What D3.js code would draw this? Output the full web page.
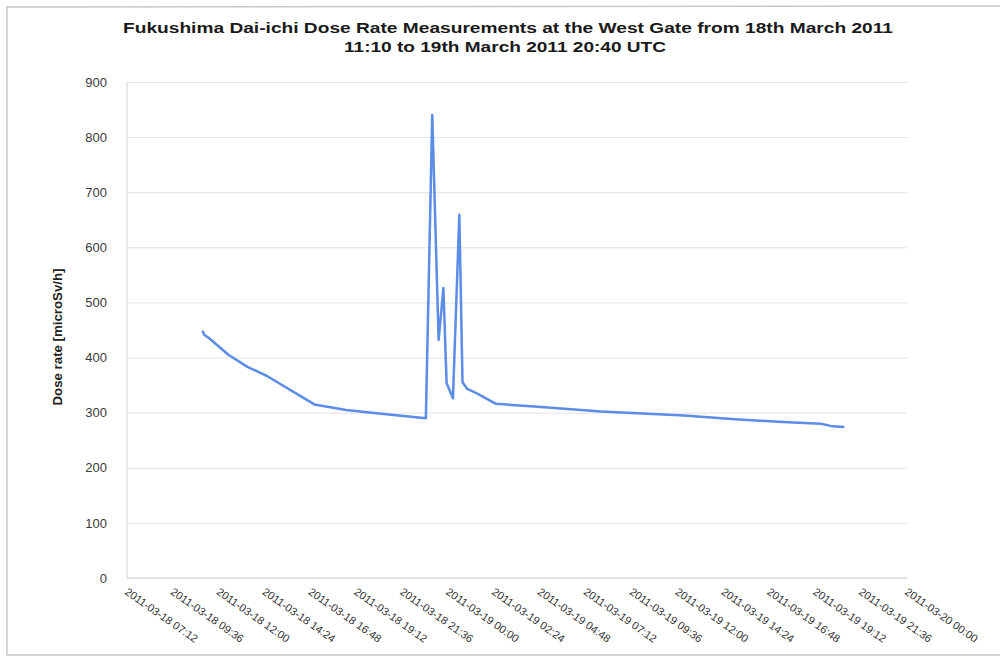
<!DOCTYPE html>
<html>
<head>
<meta charset="utf-8">
<script src="https://cdn.jsdelivr.net/npm/d3@7"></script>
<style>
  body { margin: 0; background: #fff; }
  svg { display: block; font-family: "Liberation Sans", "DejaVu Sans", sans-serif; }
</style>
</head>
<body>
<div id="chart"></div>
<script>
const times = [
  "2011-03-18 11:10", "2011-03-18 11:15", "2011-03-18 11:30", "2011-03-18 12:30",
  "2011-03-18 13:30", "2011-03-18 14:30", "2011-03-18 17:00", "2011-03-18 18:40",
  "2011-03-18 20:30", "2011-03-18 22:50", "2011-03-18 23:10", "2011-03-18 23:30",
  "2011-03-18 23:45", "2011-03-18 23:55", "2011-03-19 00:15", "2011-03-19 00:35",
  "2011-03-19 00:45", "2011-03-19 01:00", "2011-03-19 01:30", "2011-03-19 02:30",
  "2011-03-19 04:30", "2011-03-19 08:00", "2011-03-19 12:20", "2011-03-19 15:00",
  "2011-03-19 17:30", "2011-03-19 19:30", "2011-03-19 20:00", "2011-03-19 20:40",
];
const doses = [
  447, 441, 435, 405,
  383, 367, 315, 305,
  298, 290, 840, 432,
  526, 354, 326, 659,
  355, 343, 335, 316,
  311, 302, 295, 288,
  283, 280, 276, 274,
];
const xTickLabels = [
  "2011-03-18 07:12", "2011-03-18 09:36", "2011-03-18 12:00", "2011-03-18 14:24",
  "2011-03-18 16:48", "2011-03-18 19:12", "2011-03-18 21:36", "2011-03-19 00:00",
  "2011-03-19 02:24", "2011-03-19 04:48", "2011-03-19 07:12", "2011-03-19 09:36",
  "2011-03-19 12:00", "2011-03-19 14:24", "2011-03-19 16:48", "2011-03-19 19:12",
  "2011-03-19 21:36", "2011-03-20 00:00",
];
const yTicks = [0, 100, 200, 300, 400, 500, 600, 700, 800, 900];
const titleLines = [
  "Fukushima Dai-ichi Dose Rate Measurements at the West Gate from 18th March 2011",
  "11:10 to 19th March 2011 20:40 UTC",
];
const yTitle = "Dose rate [microSv/h]";

const W = 1005, H = 657;
const margin = { top: 82, right: 98, bottom: 79, left: 127 };
const width = W - margin.left - margin.right;
const height = H - margin.top - margin.bottom;

const parse = d3.utcParse("%Y-%m-%d %H:%M");
const data = times.map((t, i) => ({ date: parse(t), value: doses[i] }));
const tickDates = xTickLabels.map(parse);

const x = d3.scaleUtc()
  .domain([tickDates[0], tickDates[tickDates.length - 1]])
  .range([0, width]);

const y = d3.scaleLinear()
  .domain([0, 900])
  .range([height, 0]);

const svg = d3.select("#chart")
  .append("svg")
  .attr("width", W)
  .attr("height", H)
  .attr("viewBox", [0, 0, W, H]);

// scanned page frame
svg.append("path")
  .attr("d", `M1000,6 L7,7 L7,655 L1000,655`)
  .attr("fill", "none")
  .attr("stroke", "#c8c8c8")
  .attr("stroke-width", 1.5);

// title
svg.append("g")
  .selectAll("text")
  .data(titleLines)
  .join("text")
  .attr("x", (d, i) => (i === 0 ? 508 : 505))
  .attr("y", (d, i) => 33 + i * 19)
  .attr("text-anchor", "middle")
  .attr("font-size", 14)
  .attr("font-weight", "bold")
  .attr("fill", "#1a1a1a")
  .attr("textLength", (d, i) => (i === 0 ? 770 : 322))
  .attr("lengthAdjust", "spacingAndGlyphs")
  .text((d) => d);

const g = svg.append("g")
  .attr("transform", `translate(${margin.left},${margin.top})`);

// gridlines + y labels
const yAxisGroup = g.append("g")
  .call(d3.axisLeft(y).tickValues(yTicks).tickSize(-width).tickPadding(20))
  .call((g) => g.select(".domain").remove())
  .call((g) => g.selectAll(".tick line").attr("stroke", "#e2e2e2"))
  .call((g) => g.selectAll(".tick text")
    .attr("font-size", 13)
    .attr("fill", "#3a3a3a")
    .attr("font-family", "\"Liberation Sans\", sans-serif"));

// axis lines
g.append("line")
  .attr("x1", 0).attr("x2", 0)
  .attr("y1", 0).attr("y2", height)
  .attr("stroke", "#d4d4d4");
g.append("line")
  .attr("x1", 0).attr("x2", width)
  .attr("y1", height).attr("y2", height)
  .attr("stroke", "#d4d4d4");

// x labels, top-left corner sits at the tick
const xAxisGroup = g.append("g")
  .attr("transform", `translate(0,${height})`)
  .call(d3.axisBottom(x).tickValues(tickDates).tickSize(0).tickFormat((d, i) => xTickLabels[i]))
  .call((g) => g.select(".domain").remove())
  .call((g) => g.selectAll(".tick text")
    .attr("text-anchor", "start")
    .attr("font-size", 11)
    .attr("fill", "#333")
    .attr("x", 6)
    .attr("y", 7)
    .attr("dy", "0.71em")
    .attr("transform", "rotate(35)"));

// y title
svg.append("text")
  .attr("transform", "translate(62,337) rotate(-90)")
  .attr("text-anchor", "middle")
  .attr("font-size", 13)
  .attr("font-weight", "bold")
  .attr("fill", "#222")
  .attr("textLength", 137)
  .attr("lengthAdjust", "spacingAndGlyphs")
  .text(yTitle);

// line
const line = d3.line()
  .x((d) => x(d.date))
  .y((d) => y(d.value));

g.append("path")
  .datum(data)
  .attr("fill", "none")
  .attr("stroke", "#5b8ce6")
  .attr("stroke-width", 2.5)
  .attr("stroke-linejoin", "round")
  .attr("stroke-linecap", "round")
  .attr("d", line);
</script>
</body>
</html>
